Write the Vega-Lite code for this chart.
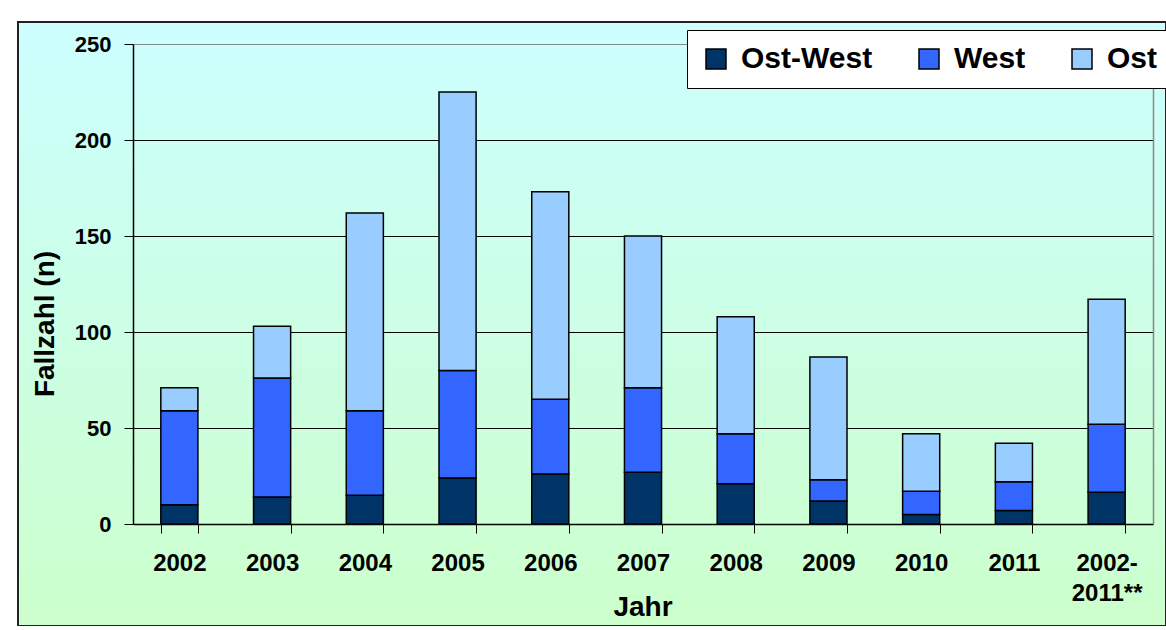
{
  "$schema": "https://vega.github.io/schema/vega-lite/v6.json",
  "width": 1148,
  "height": 604,
  "autosize": {"type": "none"},
  "padding": {"left": 18, "top": 22, "right": 0, "bottom": 0},
  "background": "white",
  "config": {
    "font": "Liberation Sans",
    "view": {
      "fill": {"gradient": "linear", "x1": 0, "y1": 0, "x2": 0, "y2": 1, "stops": [{"offset": 0, "color": "#CCFFFF"}, {"offset": 1, "color": "#CCFFCC"}]},
      "stroke": "#222222",
      "strokeWidth": 2
    }
  },
  "data": {
    "values": [
      {"jahr": "2002", "gruppe": "Ost-West", "n": 10, "idx": 1},
      {"jahr": "2002", "gruppe": "West", "n": 49, "idx": 2},
      {"jahr": "2002", "gruppe": "Ost", "n": 12, "idx": 3},
      {"jahr": "2003", "gruppe": "Ost-West", "n": 14, "idx": 1},
      {"jahr": "2003", "gruppe": "West", "n": 62, "idx": 2},
      {"jahr": "2003", "gruppe": "Ost", "n": 27, "idx": 3},
      {"jahr": "2004", "gruppe": "Ost-West", "n": 15, "idx": 1},
      {"jahr": "2004", "gruppe": "West", "n": 44, "idx": 2},
      {"jahr": "2004", "gruppe": "Ost", "n": 103, "idx": 3},
      {"jahr": "2005", "gruppe": "Ost-West", "n": 24, "idx": 1},
      {"jahr": "2005", "gruppe": "West", "n": 56, "idx": 2},
      {"jahr": "2005", "gruppe": "Ost", "n": 145, "idx": 3},
      {"jahr": "2006", "gruppe": "Ost-West", "n": 26, "idx": 1},
      {"jahr": "2006", "gruppe": "West", "n": 39, "idx": 2},
      {"jahr": "2006", "gruppe": "Ost", "n": 108, "idx": 3},
      {"jahr": "2007", "gruppe": "Ost-West", "n": 27, "idx": 1},
      {"jahr": "2007", "gruppe": "West", "n": 44, "idx": 2},
      {"jahr": "2007", "gruppe": "Ost", "n": 79, "idx": 3},
      {"jahr": "2008", "gruppe": "Ost-West", "n": 21, "idx": 1},
      {"jahr": "2008", "gruppe": "West", "n": 26, "idx": 2},
      {"jahr": "2008", "gruppe": "Ost", "n": 61, "idx": 3},
      {"jahr": "2009", "gruppe": "Ost-West", "n": 12, "idx": 1},
      {"jahr": "2009", "gruppe": "West", "n": 11, "idx": 2},
      {"jahr": "2009", "gruppe": "Ost", "n": 64, "idx": 3},
      {"jahr": "2010", "gruppe": "Ost-West", "n": 5, "idx": 1},
      {"jahr": "2010", "gruppe": "West", "n": 12, "idx": 2},
      {"jahr": "2010", "gruppe": "Ost", "n": 30, "idx": 3},
      {"jahr": "2011", "gruppe": "Ost-West", "n": 7, "idx": 1},
      {"jahr": "2011", "gruppe": "West", "n": 15, "idx": 2},
      {"jahr": "2011", "gruppe": "Ost", "n": 20, "idx": 3},
      {"jahr": "2002-2011**", "gruppe": "Ost-West", "n": 16.5, "idx": 1},
      {"jahr": "2002-2011**", "gruppe": "West", "n": 35.5, "idx": 2},
      {"jahr": "2002-2011**", "gruppe": "Ost", "n": 65, "idx": 3}
    ]
  },
  "encoding": {
    "x": {
      "field": "jahr",
      "type": "nominal",
      "sort": null,
      "scale": {"range": [115, 1135], "paddingInner": 0.6, "paddingOuter": 0.3},
      "axis": {
        "orient": "bottom",
        "offset": -102,
        "title": "Jahr",
        "titleFontSize": 28,
        "titleFontWeight": "bold",
        "titleColor": "black",
        "titleX": 624.5,
        "titleY": 91,
        "titleAlign": "center",
        "titleBaseline": "alphabetic",
        "labelAngle": 0,
        "labelFontSize": 24,
        "labelFontWeight": "bold",
        "labelColor": "black",
        "labelPadding": 18,
        "labelLineHeight": 30,
        "labelExpr": "datum.value == '2002-2011**' ? ['2002-', '2011**'] : datum.label",
        "tickBand": "extent",
        "tickSize": 9,
        "tickColor": "black",
        "domainColor": "black",
        "domainWidth": 1.5,
        "grid": false
      }
    },
    "y": {
      "field": "n",
      "type": "quantitative",
      "aggregate": "sum",
      "stack": "zero",
      "scale": {"domain": [0, 250], "nice": false, "range": [502, 22]}
    },
    "color": {
      "field": "gruppe",
      "type": "nominal",
      "scale": {"domain": ["Ost-West", "West", "Ost"], "range": ["#003366", "#3366FF", "#99CCFF"]},
      "legend": {
        "orient": "none",
        "legendX": 669,
        "legendY": 8,
        "direction": "horizontal",
        "columns": 3,
        "title": null,
        "fillColor": "white",
        "strokeColor": "black",
        "padding": 14,
        "columnPadding": 41,
        "labelFontSize": 30,
        "labelFontWeight": "bold",
        "labelColor": "black",
        "labelOffset": 10,
        "symbolType": "square",
        "symbolSize": 400,
        "symbolStrokeColor": "black",
        "symbolStrokeWidth": 1.5,
        "symbolOpacity": 1
      }
    },
    "order": {"field": "idx", "type": "quantitative"}
  },
  "layer": [
    {
      "mark": {"type": "bar", "stroke": "black", "strokeWidth": 1.5, "opacity": 1},
      "encoding": {
        "y": {
          "field": "n",
          "type": "quantitative",
          "aggregate": "sum",
          "stack": "zero",
          "scale": {"domain": [0, 250], "nice": false, "range": [502, 22]},
          "axis": {
            "orient": "left",
            "offset": -115,
            "values": [0, 50, 100, 150, 200, 250],
            "title": "Fallzahl (n)",
            "titleFontSize": 28,
            "titleFontWeight": "bold",
            "titleColor": "black",
            "titleAngle": 270,
            "titleX": -88,
            "titleY": 301.5,
            "titleAlign": "center",
            "titleBaseline": "middle",
            "labelFontSize": 22,
            "labelFontWeight": "bold",
            "labelColor": "black",
            "labelPadding": 13,
            "tickSize": 9,
            "tickColor": "black",
            "domainColor": "black",
            "domainWidth": 1.5,
            "grid": true,
            "gridColor": {"condition": {"test": "datum.value == 250", "value": "#888888"}, "value": "black"},
            "gridWidth": 1.2
          }
        }
      }
    },
    {
      "mark": {"type": "bar", "opacity": 0},
      "encoding": {
        "y": {
          "field": "n",
          "type": "quantitative",
          "aggregate": "sum",
          "stack": "zero",
          "scale": {"domain": [0, 250], "nice": false, "range": [502, 22]},
          "axis": {
            "orient": "right",
            "offset": -13,
            "title": null,
            "labels": false,
            "ticks": false,
            "grid": false,
            "domainColor": "#888888",
            "domainWidth": 1.5
          }
        }
      }
    }
  ],
  "resolve": {"axis": {"y": "independent"}}
}
